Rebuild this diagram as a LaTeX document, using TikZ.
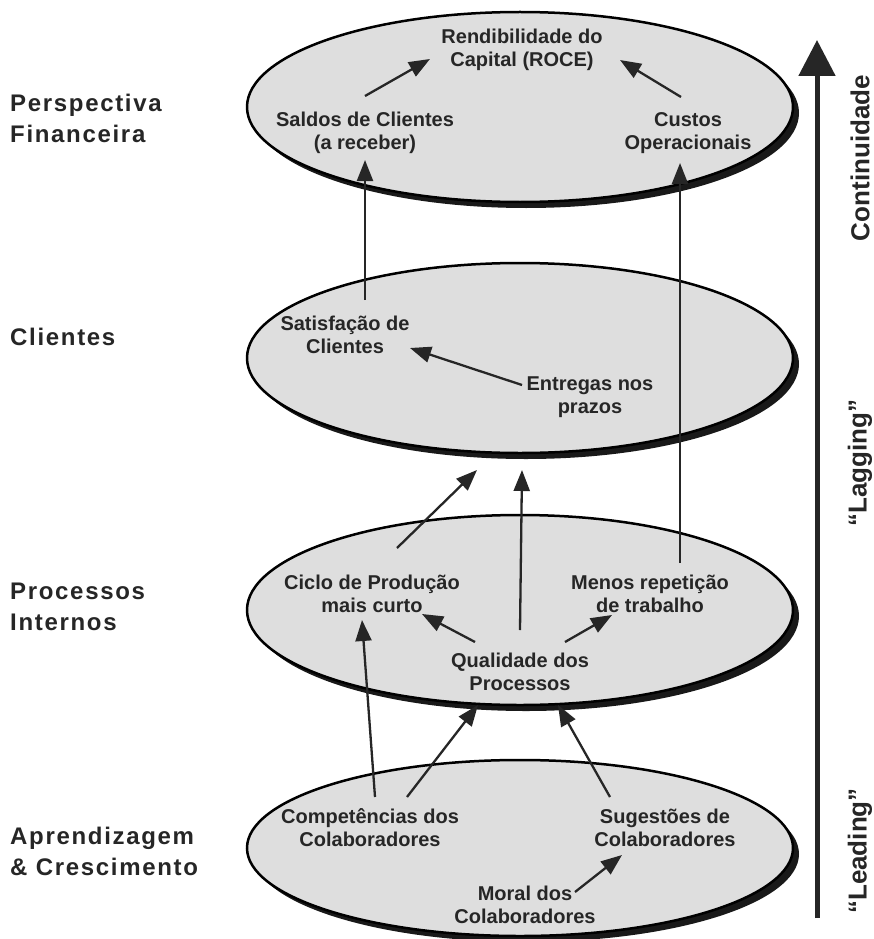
\documentclass[tikz,border=0pt]{standalone}
\usepackage{fontspec}
\setmainfont{Liberation Sans}
\newfontfamily\labfont[LetterSpace=7]{Liberation Sans}
\usetikzlibrary{arrows.meta,shapes.geometric,shadows,calc}
\begin{document}
\begin{tikzpicture}[x=1pt,y=-1pt,
  layer/.style={ellipse, draw=black, line width=2.5pt, fill=black!13,
    minimum width=546pt, minimum height=190pt, inner sep=0pt,
    drop shadow={shadow xshift=6pt, shadow yshift=-6pt, fill=black!90, opacity=1}},
  txt/.style={font=\fontsize{20}{23}\selectfont\bfseries, align=center, inner sep=1pt, text=black!85},
  side/.style={font=\labfont\fontsize{24}{31}\selectfont\bfseries, align=left, anchor=west, inner sep=0pt, text=black!85},
  axlab/.style={font=\fontsize{26}{28}\selectfont\bfseries, rotate=90, inner sep=0pt, text=black!85},
  arr/.style={line width=2.3pt, draw=black!85, -{Triangle[length=21pt,width=16pt]}},
]
\useasboundingbox (0,0) rectangle (874,939);
\fill[white] (0,0) rectangle (874,939);

% layers
\node[layer] (e1) at (520,107) {};
\node[layer] (e2) at (520,358) {};
\node[layer] (e3) at (520,610) {};
\node[layer, minimum height=176pt] (e4) at (520,848) {};

% side labels
\node[side] (l1) at (10,118) {Perspectiva\\Financeira};
\node[side] (l2) at (10,337) {Clientes};
\node[side] (l3) at (10,607) {Processos\\Internos};
\node[side] (l4) at (10,851) {Aprendizagem\\\& Crescimento};

% texts
\node[txt] (roce) at (522,50) {Rendibilidade do\\Capital (ROCE)};
\node[txt] (saldos) at (365,133) {Saldos de Clientes\\(a receber)};
\node[txt] (custos) at (688,133) {Custos\\Operacionais};
\node[txt] (satis) at (345,335) {Satisfação de\\Clientes};
\node[txt] (entregas) at (590,397) {Entregas nos\\prazos};
\node[txt] (ciclo) at (372,594) {Ciclo de Produção\\mais curto};
\node[txt] (menos) at (650,594) {Menos repetição\\de trabalho};
\node[txt] (qual) at (520,672) {Qualidade dos\\Processos};
\node[txt] (comp) at (370,828) {Competências dos\\Colaboradores};
\node[txt] (suges) at (665,828) {Sugestões de\\Colaboradores};
\node[txt] (moral) at (525,905) {Moral dos\\Colaboradores};

% arrows
\draw[arr] ($(saldos)+(0,-37)$) -- ($(roce)+(-92,9)$);
\draw[arr] ($(custos)+(-7,-36)$) -- ($(roce)+(98,10)$);
\draw[arr] ($(satis)+(20,-35)$) -- ($(saldos)+(0,27)$);
\draw[arr] ($(menos)+(30,-31)$) -- ($(custos)+(-8,30)$);
\draw[arr] ($(entregas)+(-68,-12)$) -- ($(satis)+(65,13)$);
\draw[arr] ($(ciclo)+(25,-46)$) -- ($(e2)+(-43,112)$);
\draw[arr] ($(qual)+(0,-42)$) -- ($(e2)+(2,112)$);
\draw[arr] ($(qual)+(-45,-30)$) -- ($(ciclo)+(50,20)$);
\draw[arr] ($(qual)+(45,-30)$) -- ($(menos)+(-38,21)$);
\draw[arr] ($(comp)+(5,-31)$) -- ($(ciclo)+(-10,26)$);
\draw[arr] ($(comp)+(37,-31)$) -- ($(qual)+(-42,33)$);
\draw[arr] ($(suges)+(-55,-31)$) -- ($(qual)+(38,33)$);
\draw[arr] ($(moral)+(50,-13)$) -- ($(suges)+(-43,27)$);

% axis
\coordinate (axb) at (817,918);
\coordinate (axt) at (817,40);
\draw[line width=5pt, draw=black!85, -{Triangle[length=36pt,width=36pt]}] (axb) -- (axt);
\node[axlab] (cont) at (860,158) {Continuidade};
\node[axlab] (lag) at (860,463) {“Lagging”};
\node[axlab] (lead) at (860,851) {“Leading”};
\end{tikzpicture}
\end{document}
